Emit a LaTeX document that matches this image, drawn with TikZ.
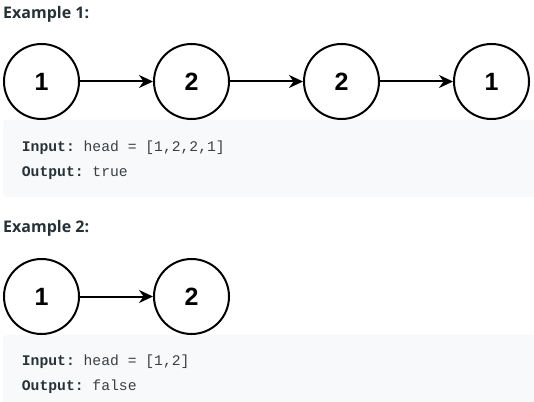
\documentclass[tikz,border=0pt]{standalone}
\usepackage{fontspec}
\setmainfont{Open Sans}
\newfontfamily\digitfont{Liberation Sans}
\setmonofont{Liberation Mono}
\usetikzlibrary{positioning,arrows.meta}
\definecolor{headcol}{HTML}{263238}
\definecolor{codebg}{HTML}{F7F9FA}
\definecolor{codecol}{HTML}{3C4043}

\begin{document}
\begin{tikzpicture}[
    x=1pt,y=1pt,
    elem/.style={draw,circle,line width=2pt,fill=white,inner sep=0pt,
                 minimum size=75pt,font=\digitfont\bfseries\fontsize{25}{25}\selectfont},
    link/.style={-{Stealth[length=14pt,width=13pt]},line width=2pt},
    title/.style={anchor=base west,inner sep=0pt,text=headcol,
                  font=\bfseries\fontsize{16}{19}\selectfont},
    codebox/.style={fill=codebg,rounded corners=3pt,anchor=north west,inner sep=0pt,
                    minimum width=540pt},
    codeline/.style={anchor=base west,inner sep=0pt,text=codecol,
                     font=\ttfamily\fontsize{14.7}{17}\selectfont}
]
  \useasboundingbox (0,0) rectangle (534,-401);

  % example 1
  \node[title] (ex1) at (3,-19) {Example 1:};
  \node[codebox,minimum height=77.5pt] (box1) at (3,-119.5) {};
  \node[elem] (a1) at (41.5,-81.5) {1};
  \node[elem,right=73pt of a1] (a2) {2};
  \node[elem,right=73pt of a2] (a3) {2};
  \node[elem,right=73pt of a3] (a4) {1};
  \draw[link] (a1) -- (a2);
  \draw[link] (a2) -- (a3);
  \draw[link] (a3) -- (a4);
  \node[codeline] (in1) at (21.7,-151.7) {\textcolor{headcol}{\bfseries Input:} head = [1,2,2,1]};
  \node[codeline] (out1) at (21.7,-176.7) {\textcolor{headcol}{\bfseries Output:} true};

  % example 2
  \node[title] (ex2) at (3,-232.3) {Example 2:};
  \node[codebox,minimum height=72pt] (box2) at (3,-335) {};
  \node[elem] (b1) at (41.5,-296.5) {1};
  \node[elem,right=73pt of b1] (b2) {2};
  \draw[link] (b1) -- (b2);
  \node[codeline] (in2) at (21.7,-365) {\textcolor{headcol}{\bfseries Input:} head = [1,2]};
  \node[codeline] (out2) at (21.7,-390.7) {\textcolor{headcol}{\bfseries Output:} false};
\end{tikzpicture}
\end{document}
